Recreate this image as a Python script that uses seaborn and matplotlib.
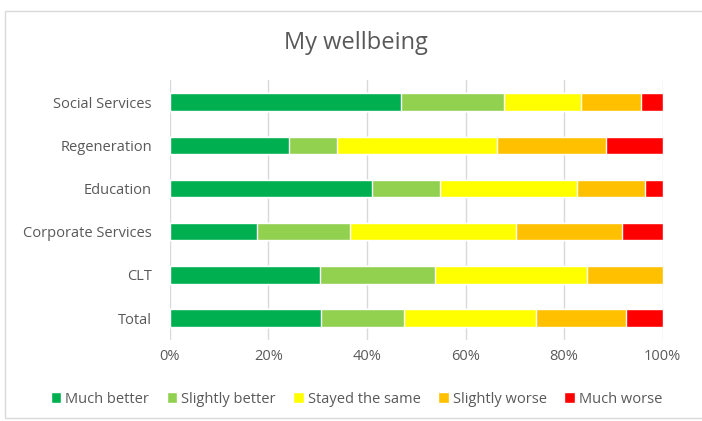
import matplotlib.pyplot as plt
import seaborn as sns
import pandas as pd
import numpy as np
from matplotlib.patches import Rectangle

sns.set_theme(style="white")
plt.rcParams["font.family"] = ["Open Sans", "DejaVu Sans"]

groups = ["Social Services", "Regeneration", "Education", "Corporate Services", "CLT", "Total"]
responses = ["Much better", "Slightly better", "Stayed the same", "Slightly worse", "Much worse"]
much_better = [46.9, 24.2, 41.0, 17.7, 30.5, 30.7]
slightly_better = [20.9, 9.7, 13.9, 18.9, 23.3, 16.8]
stayed_same = [15.6, 32.4, 27.7, 33.6, 30.9, 26.8]
slightly_worse = [12.1, 22.1, 13.8, 21.6, 15.3, 18.3]
much_worse = [4.4, 11.5, 3.6, 8.2, 0.0, 7.4]
colors = ["#00B050", "#92D050", "#FFFF00", "#FFC000", "#FF0000"]

df = pd.DataFrame({
    "group": groups,
    "Much better": much_better,
    "Slightly better": slightly_better,
    "Stayed the same": stayed_same,
    "Slightly worse": slightly_worse,
    "Much worse": much_worse,
})
cum = df[responses].cumsum(axis=1)
cum = cum.div(cum[responses[-1]], axis=0) * 100
cum["group"] = groups

fig = plt.figure(figsize=(7.02, 4.21), dpi=100)
ax = fig.add_axes([0.242, 0.193, 0.702, 0.616])

# draw cumulative totals from the right, shorter bars on top
for resp, col in reversed(list(zip(responses, colors))):
    sns.barplot(data=cum, x=resp, y="group", order=groups, color=col,
                width=0.4, saturation=1, ax=ax, label=resp, zorder=3)

ax.set_xlim(0, 100)
ax.set_xticks(np.arange(0, 101, 20))
ax.set_xticklabels([f"{v}%" for v in range(0, 101, 20)])
ax.set_xlabel("")
ax.set_ylabel("")
ax.grid(axis="x", color="#D9D9D9", linewidth=1, zorder=0)
for s in ax.spines.values():
    s.set_visible(False)
ax.tick_params(axis="both", length=0, labelsize=10.5, colors="#595959")
ax.tick_params(axis="x", pad=7)
ax.tick_params(axis="y", pad=13)

handles, labels = ax.get_legend_handles_labels()
order = [labels.index(r) for r in responses]
leg = fig.legend([handles[i] for i in order], responses, loc="center",
                 bbox_to_anchor=(0.508, 0.052), ncol=5, frameon=False,
                 fontsize=10.5, handlelength=0.7, handleheight=0.7,
                 handletextpad=0.3, columnspacing=1.2)
for t in leg.get_texts():
    t.set_color("#595959")
if ax.get_legend() is not None:
    ax.get_legend().remove()

fig.text(0.507, 0.898, "My wellbeing", ha="center", va="center",
         fontsize=17, color="#595959")
fig.patches.append(Rectangle((0.007, 0.007), 1.1, 0.967, transform=fig.transFigure,
                             fill=False, edgecolor="#D9D9D9", linewidth=1))

fig.savefig("out.png", dpi=100, facecolor="white")
